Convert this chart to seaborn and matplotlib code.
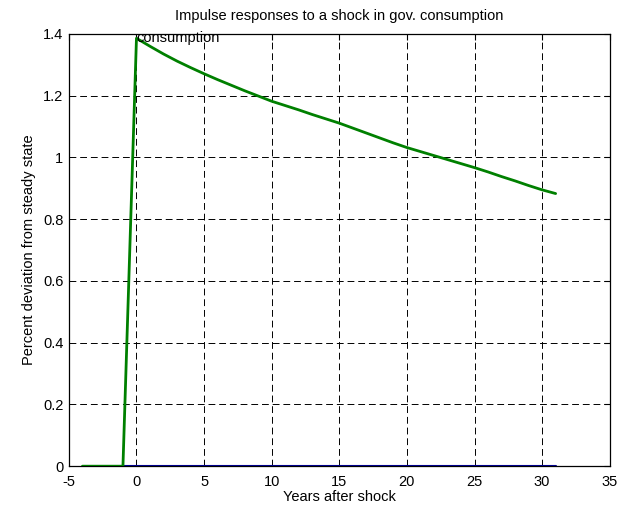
import numpy as np
import pandas as pd
import matplotlib
matplotlib.use("Agg")
import matplotlib.pyplot as plt
import seaborn as sns

# ==========================================================
# Data
# ==========================================================

pre_years = [-4, -3, -2, -1]
pre_values = [0.0, 0.0, 0.0, 0.0]

post_years = list(range(0, 32))
post_values = [
    1.386, 1.360, 1.335, 1.312, 1.291, 1.271, 1.252, 1.234,
    1.216, 1.199, 1.182, 1.168, 1.154, 1.139, 1.125, 1.111,
    1.095, 1.079, 1.063, 1.047, 1.032, 1.019, 1.006, 0.993,
    0.980, 0.967, 0.953, 0.938, 0.924, 0.909, 0.895, 0.883,
]

zero_years = list(range(-1, 32))
zero_values = [0.0] * len(zero_years)

x_ticks = [-5, 0, 5, 10, 15, 20, 25, 30, 35]
y_ticks = [0, 0.2, 0.4, 0.6, 0.8, 1, 1.2, 1.4]
y_tick_labels = ["0", "0.2", "0.4", "0.6", "0.8", "1", "1.2", "1.4"]

# ==========================================================
# Plot
# ==========================================================

sns.set_style("white")
plt.rcParams["font.family"] = ["Liberation Sans", "DejaVu Sans"]
plt.rcParams["axes.unicode_minus"] = False
plt.rcParams["text.color"] = "black"
plt.rcParams["axes.labelcolor"] = "black"
plt.rcParams["xtick.color"] = "black"
plt.rcParams["ytick.color"] = "black"

response = pd.DataFrame({
    "year": pre_years + post_years,
    "value": pre_values + post_values,
})
zeros = pd.DataFrame({"year": zero_years, "value": zero_values})

fig = plt.figure(figsize=(6.26, 5.14), dpi=100)
ax = fig.add_axes([0.110, 0.093, 0.864, 0.841])

sns.lineplot(data=zeros, x="year", y="value", ax=ax,
             color="#00008B", linewidth=1.5, zorder=3)
sns.lineplot(data=response, x="year", y="value", ax=ax,
             color="#008000", linewidth=2.0, zorder=4)

ax.text(0, post_values[0], "consumption", ha="left", va="center",
        fontsize=10.5, color="black", zorder=5)

ax.set_xlim(-5, 35)
ax.set_ylim(0, 1.4)
ax.set_xticks(x_ticks)
ax.set_yticks(y_ticks)
ax.set_yticklabels(y_tick_labels)

ax.grid(True, color="black", linestyle=(0, (7, 4)), linewidth=0.7)
ax.set_axisbelow(True)

for side in ax.spines.values():
    side.set_color("black")
    side.set_linewidth(0.9)

ax.tick_params(direction="in", length=4, top=True, right=True,
               labelsize=10.5, colors="black", labelcolor="black")
ax.tick_params(axis="x", pad=6)
ax.tick_params(axis="y", pad=4)

ax.set_title("Impulse responses to a shock in gov. consumption",
             fontsize=10.5, pad=10, color="black")
ax.set_xlabel("Years after shock", fontsize=10.5, labelpad=1, color="black")
ax.set_ylabel("Percent deviation from steady state", fontsize=10.5,
              labelpad=5, color="black")

fig.savefig("out.png", dpi=100)
plt.close(fig)
